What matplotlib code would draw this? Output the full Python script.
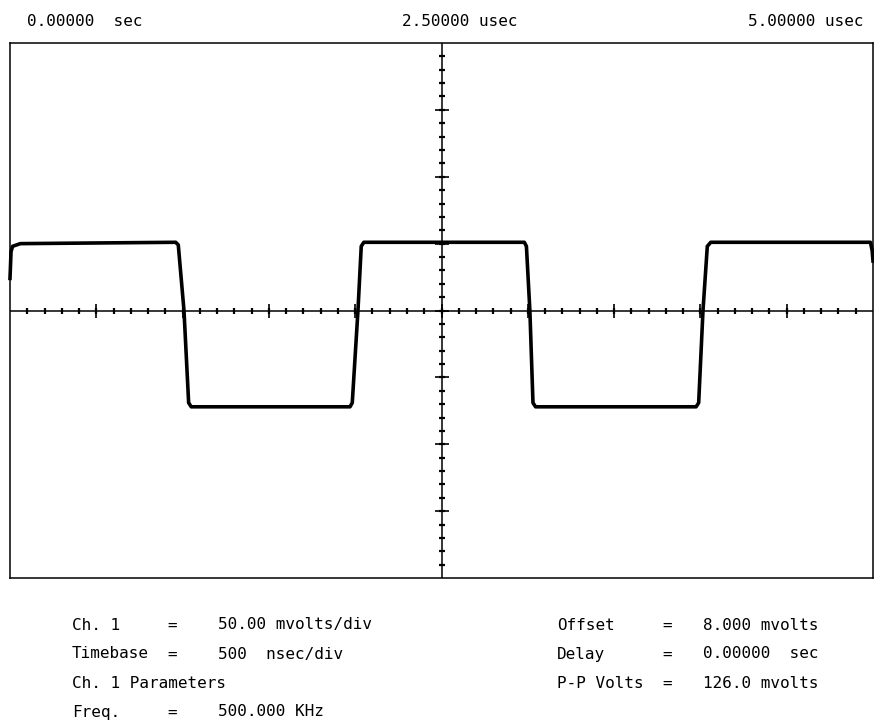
import matplotlib
matplotlib.use("Agg")
import matplotlib.pyplot as plt
import numpy as np

# Trace (time in usec, amplitude in mV)
trace_t = [0.000, 0.006, 0.015, 0.06, 0.96, 0.975, 1.008, 1.035, 1.050,
           1.97, 1.983, 2.016, 2.035, 2.050, 2.980, 2.992, 3.012, 3.030,
           3.045, 3.975, 3.990, 4.015, 4.040, 4.060, 4.985, 4.995, 5.000]
trace_mv = [24, 44, 48, 50, 51, 49, 0, -69, -72,
            -72, -69, 0, 48, 51, 51, 48, 0, -69,
            -72, -72, -69, 0, 48, 51, 51, 45, 37]

top_labels = ["0.00000  sec", "2.50000 usec", "5.00000 usec"]

left_names = ["Ch. 1", "Timebase", "Ch. 1 Parameters", "Freq."]
left_values = ["50.00 mvolts/div", "500  nsec/div", "", "500.000 KHz"]
right_names = ["Offset", "Delay", "P-P Volts"]
right_values = ["8.000 mvolts", "0.00000  sec", "126.0 mvolts"]

W, H = 874, 721
fig = plt.figure(figsize=(W / 100, H / 100), dpi=100)
ax = fig.add_axes([10 / W, 1 - 578 / H, 863 / W, 535 / H])
ax.set_xlim(0, 5)
ax.set_ylim(-200, 200)
ax.set_xticks([])
ax.set_yticks([])
for s in ax.spines.values():
    s.set_linewidth(1.1)
    s.set_color("black")

# centre graticule with tick marks
ax.axhline(0, color="black", lw=1.1)
ax.axvline(2.5, color="black", lw=1.1)
xt_minor = np.arange(0.1, 5.0, 0.1)
xt_major = np.arange(0.5, 5.0, 0.5)
yt_minor = np.arange(-190, 200, 10)
yt_major = np.arange(-150, 200, 50)
ax.plot(xt_minor, np.zeros_like(xt_minor), ls="none", marker="|", ms=5, mew=1.6, color="black")
ax.plot(xt_major, np.zeros_like(xt_major), ls="none", marker="|", ms=10, mew=1.2, color="black")
ax.plot(np.full_like(yt_minor, 2.5, dtype=float), yt_minor, ls="none", marker="_", ms=5, mew=1.6, color="black")
ax.plot(np.full_like(yt_major, 2.5, dtype=float), yt_major, ls="none", marker="_", ms=10, mew=1.2, color="black")

ax.plot(trace_t, trace_mv, color="black", lw=2.6, solid_joinstyle="round", clip_on=False)

font = dict(family="DejaVu Sans Mono", fontsize=11.5, color="black", va="center")

def px(x, y):
    return x / W, 1 - y / H

fig.text(*px(27, 21), top_labels[0], ha="left", **font)
fig.text(*px(460, 21), top_labels[1], ha="center", **font)
fig.text(*px(863, 21), top_labels[2], ha="right", **font)

rows = [625, 654, 683, 712]
for i, name in enumerate(left_names):
    fig.text(*px(72, rows[i]), name, ha="left", **font)
    if left_values[i]:
        fig.text(*px(167, rows[i]), "=", ha="left", **font)
        fig.text(*px(218, rows[i]), left_values[i], ha="left", **font)

for i, name in enumerate(right_names):
    fig.text(*px(557, rows[i]), name, ha="left", **font)
    fig.text(*px(662, rows[i]), "=", ha="left", **font)
    fig.text(*px(703, rows[i]), right_values[i], ha="left", **font)

fig.savefig("out.png", dpi=100)
